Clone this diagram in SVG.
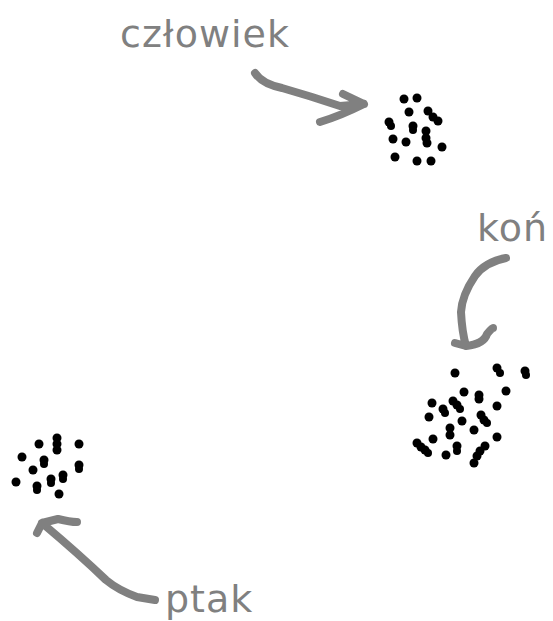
<svg xmlns="http://www.w3.org/2000/svg" width="553" height="621" viewBox="0 0 553 621">
<style>
.lbl{font-family:"DejaVu Sans",sans-serif;font-size:38px;letter-spacing:1px;fill:#808080}
.arr{fill:none;stroke:#808080;stroke-width:8;stroke-linecap:round;stroke-linejoin:round}
.dot{fill:#000}
</style>
<rect width="553" height="621" fill="#fff"/>
<g id="connectors">
<path class="arr" d="M255,73 Q262,84 282,88 Q310,96 340,106 L364,104 L343,94 M364,104 Q340,116 320,122"/>
<path class="arr" d="M506,258 Q485,262 475,276 Q462,295 461,312 Q462,332 466,346 L455,343 M466,346 Q484,344 487,334 Q492,328 493,328"/>
<path class="arr" d="M155,600 L137,597 Q118,590 106,580 Q80,555 42,523 L37,533 M42,523 L58,519 Q70,522 77,522"/>
</g>
<g id="czlowiek">
<text class="lbl" x="120" y="47">człowiek</text>
<g class="dot">
<circle cx="404" cy="99" r="4.5"/><circle cx="417" cy="98" r="4.5"/><circle cx="409" cy="112" r="4.5"/><circle cx="428" cy="111" r="4.5"/><circle cx="433" cy="117" r="4.5"/><circle cx="438" cy="121" r="4.5"/><circle cx="389" cy="122" r="4.5"/><circle cx="391" cy="126" r="4"/><circle cx="413" cy="126" r="4.5"/><circle cx="413" cy="130" r="4"/><circle cx="426" cy="131" r="4.5"/><circle cx="426" cy="138" r="4.5"/><circle cx="393" cy="139" r="4.5"/><circle cx="406" cy="142" r="4.5"/><circle cx="427" cy="143" r="4.5"/><circle cx="442" cy="147" r="4.5"/><circle cx="395" cy="157" r="4.5"/><circle cx="417" cy="161" r="4.5"/><circle cx="431" cy="161" r="4.5"/>
</g>
</g>
<g id="kon">
<text class="lbl" x="477" y="241" letter-spacing="2.5">koń</text>
<g class="dot">
<circle cx="455" cy="373" r="4.5"/><circle cx="497" cy="368" r="4.5"/><circle cx="500" cy="373" r="4"/><circle cx="525" cy="371" r="4.5"/><circle cx="526" cy="375" r="4"/><circle cx="506" cy="391" r="4.5"/><circle cx="464" cy="392" r="4.5"/><circle cx="479" cy="395" r="4.5"/><circle cx="479" cy="399" r="4.5"/><circle cx="432" cy="403" r="4.5"/><circle cx="443" cy="409" r="4.5"/><circle cx="445" cy="413" r="4"/><circle cx="453" cy="401" r="4.5"/><circle cx="457" cy="405" r="4.5"/><circle cx="460" cy="409" r="4"/><circle cx="497" cy="406" r="4.5"/><circle cx="429" cy="417" r="4.5"/><circle cx="462" cy="421" r="4.5"/><circle cx="481" cy="415" r="4.5"/><circle cx="484" cy="420" r="4.5"/><circle cx="487" cy="423" r="4"/><circle cx="450" cy="428" r="4.5"/><circle cx="450" cy="435" r="4.5"/><circle cx="474" cy="430" r="4.5"/><circle cx="497" cy="437" r="4.5"/><circle cx="433" cy="439" r="4.5"/><circle cx="417" cy="443" r="4.5"/><circle cx="421" cy="447" r="4.5"/><circle cx="425" cy="450" r="4.5"/><circle cx="428" cy="453" r="4"/><circle cx="446" cy="455" r="4.5"/><circle cx="457" cy="446" r="4.5"/><circle cx="457" cy="451" r="4"/><circle cx="485" cy="446" r="4.5"/><circle cx="480" cy="451" r="4.5"/><circle cx="477" cy="456" r="4.5"/><circle cx="474" cy="463" r="4.5"/>
</g>
</g>
<g id="ptak">
<text class="lbl" x="165" y="612">ptak</text>
<g class="dot">
<circle cx="39" cy="444" r="4.5"/><circle cx="57" cy="438" r="4.5"/><circle cx="57" cy="444" r="4.5"/><circle cx="57" cy="450" r="4.5"/><circle cx="79" cy="444" r="4.5"/><circle cx="22" cy="457" r="4.5"/><circle cx="44" cy="460" r="4.5"/><circle cx="44" cy="464" r="4"/><circle cx="33" cy="470" r="4.5"/><circle cx="79" cy="465" r="4.5"/><circle cx="79" cy="469" r="4"/><circle cx="63" cy="475" r="4.5"/><circle cx="63" cy="479" r="4"/><circle cx="51" cy="479" r="4.5"/><circle cx="51" cy="483" r="4"/><circle cx="16" cy="482" r="4.5"/><circle cx="37" cy="486" r="4.5"/><circle cx="37" cy="490" r="4"/><circle cx="59" cy="494" r="4.5"/>
</g>
</g>
</svg>
